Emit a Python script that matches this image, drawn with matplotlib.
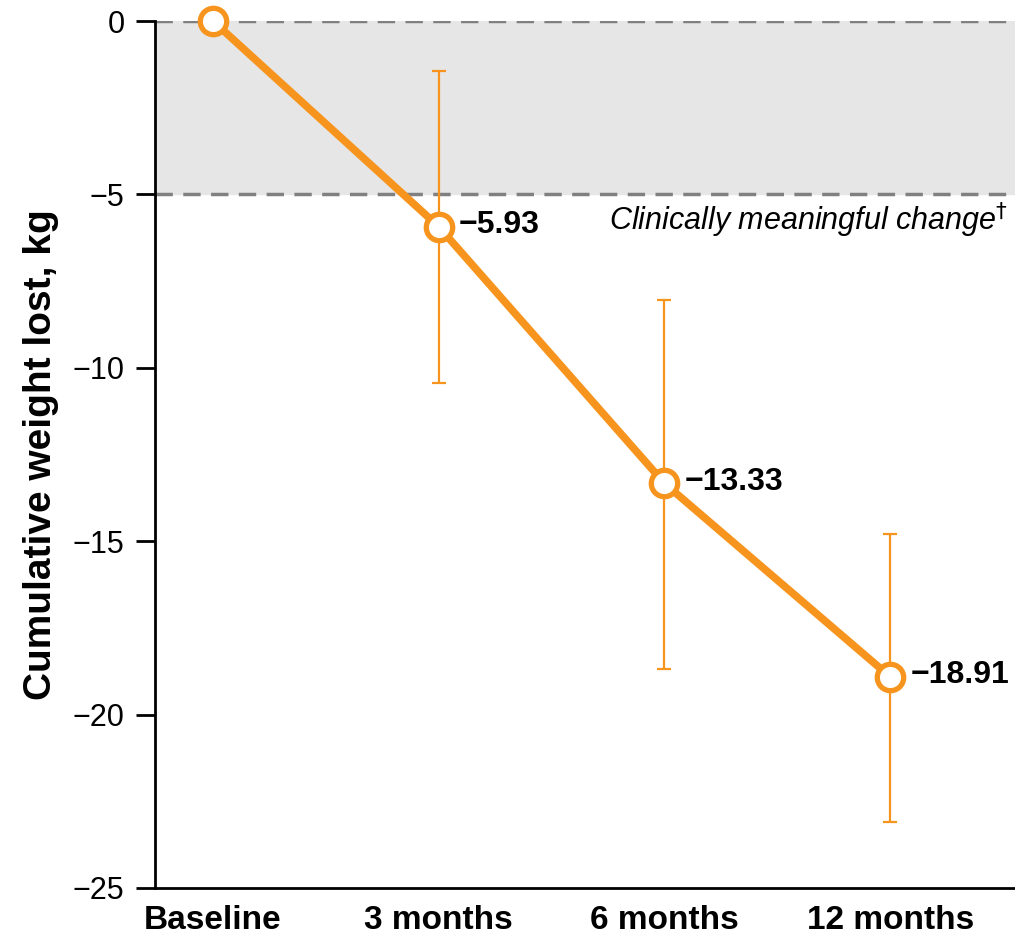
import matplotlib.pyplot as plt

plt.rcParams['font.family'] = ['Liberation Sans', 'DejaVu Sans']

timepoints = ['Baseline', '3 months', '6 months', '12 months']
mean_change = [0.0, -5.93, -13.33, -18.91]
err_low = [None, -10.45, -18.68, -23.1]
err_high = [None, -1.45, -8.05, -14.8]
point_labels = ['', '\u22125.93', '\u221213.33', '\u221218.91']

orange = '#F7941D'

fig = plt.figure(figsize=(10.15, 9.48), dpi=100)
ax = fig.add_axes([0.1527, 0.0633, 0.8473, 0.9145])

x = list(range(len(timepoints)))

# clinically meaningful band
ax.axhspan(-5, 0, color='#E6E6E6', zorder=0)
ax.axhline(0, color='#808080', lw=2.5, ls=(0, (5, 3)), zorder=1)
ax.axhline(-5, color='#808080', lw=2.5, ls=(0, (5, 3)), zorder=1)

# error bars
for i in x:
    if err_low[i] is None:
        continue
    lo = mean_change[i] - err_low[i]
    hi = err_high[i] - mean_change[i]
    ax.errorbar([i], [mean_change[i]], yerr=[[lo], [hi]], fmt='none',
                ecolor=orange, elinewidth=1.6, capsize=5, capthick=1.6, zorder=2)

ax.plot(x, mean_change, color=orange, lw=5.5, marker='o', ms=19,
        mfc='white', mec=orange, mew=3.8, zorder=3, clip_on=False)

for i in x:
    if point_labels[i]:
        ax.text(i + 0.09, mean_change[i] + 0.05, point_labels[i], fontsize=23,
                fontweight='bold', va='center', ha='left')

ax.text(3.52, -5.75, r'Clinically meaningful change$^{\dagger}$', fontsize=22,
        style='italic', ha='right', va='center')

ax.set_xlim(-0.257, 3.553)
ax.set_ylim(-25, 0)
ax.set_yticks([0, -5, -10, -15, -20, -25])
ax.set_yticklabels(['0', '\u22125', '\u221210', '\u221215', '\u221220', '\u221225'])
ax.set_xticks(x)
ax.set_xticklabels(timepoints, fontsize=24, fontweight='bold')
ax.tick_params(axis='y', labelsize=22, length=14, width=2, pad=8)
ax.tick_params(axis='x', length=0, pad=12)

for s in ['top', 'right']:
    ax.spines[s].set_visible(False)
ax.spines['left'].set_linewidth(2)
ax.spines['bottom'].set_linewidth(2)

ax.set_ylabel('Cumulative weight lost, kg', fontsize=28, fontweight='bold', labelpad=10)

fig.savefig('out.png', dpi=100)
